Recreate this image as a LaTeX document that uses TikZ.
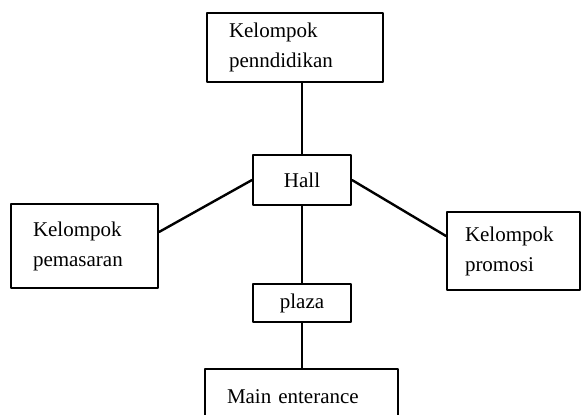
\documentclass[tikz,border=0pt]{standalone}
\usepackage{fontspec}
\setmainfont{Liberation Serif}
\usetikzlibrary{calc}

\begin{document}
\begin{tikzpicture}[x=0.5pt,y=-0.5pt,line join=round,line cap=round,
	kotak/.style={draw,line width=1pt,inner sep=0pt,font=\fontsize{10.5}{15}\selectfont},
	kotakdua/.style={kotak,align=left,inner xsep=#1},
	garis/.style={line width=1.2pt}]
	\useasboundingbox (0,0) rectangle (583,414);
	\clip (0,0) rectangle (583,414);
	% Kotak
	\node[kotakdua=11pt,text width=66pt,minimum height=34.5pt] (didik) at (295,47.5) {Kelompok\\penndidikan};
	\node[kotak,minimum width=49pt,minimum height=25pt] (hall) at (302,180) {Hall};
	\node[kotakdua=11pt,text width=51.5pt,minimum height=42pt] (pasar) at (84.5,246) {Kelompok\\pemasaran};
	\node[kotakdua=9pt,text width=48.5pt,minimum height=39pt] (promosi) at (513.5,251) {Kelompok\\promosi};
	\node[kotak,minimum width=49pt,minimum height=19pt] (plaza) at (302,303) {plaza};
	\node[kotakdua=11pt,text width=74.5pt,minimum height=28pt] (main) at (301.5,397) {Main enterance};
	% Garis
	\draw[garis] (hall.north) -- (hall.north |- didik.south);
	\draw[garis] ([yshift=7pt]pasar.east) -- (hall.west);
	\draw[garis] (hall.east) -- ([yshift=7.5pt]promosi.west);
	\draw[garis] (hall.south) -- (plaza.north);
	\draw[garis] (plaza.south) -- (plaza.south |- main.north);
\end{tikzpicture}
\end{document}
